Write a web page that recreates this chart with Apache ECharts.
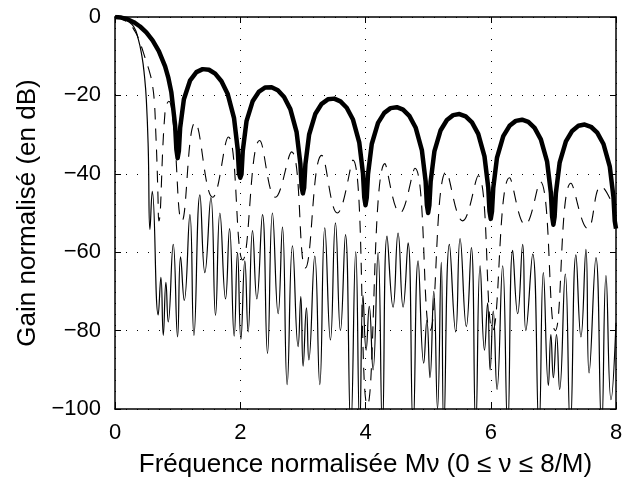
<!DOCTYPE html>
<html><head><meta charset="utf-8">
<script src="https://cdn.jsdelivr.net/npm/echarts@6/dist/echarts.min.js"></script>
<style>html,body{margin:0;padding:0;background:#fff}#c{width:629px;height:483px}</style>
</head><body><div id="c"></div>
<script>
const xTicks=[0,2,4,6,8];
const yTicks=[0,-20,-40,-60,-80,-100];
const thickCurve=[[0,0],[0.1,-0.14],[0.2,-0.58],[0.3,-1.33],[0.4,-2.42],[0.5,-3.92],[0.6,-5.94],[0.7,-8.69],[0.8,-12.62],[0.85,-15.39],[0.9,-19.23],[0.96,-27.63],[0.98,-33.8],[1.0,-36],
[1.02,-34.15],[1.04,-28.32],[1.1,-20.97],[1.2,-16.14],[1.3,-14.06],[1.4,-13.30],[1.5,-13.46],[1.6,-14.46],[1.7,-16.39],[1.8,-19.67],[1.9,-25.72],[1.96,-33.83],[1.98,-39.91],[2.0,-41],
[2.02,-40.09],[2.04,-34.17],[2.1,-26.58],[2.2,-21.41],[2.3,-19.01],[2.4,-17.98],[2.5,-17.90],[2.6,-18.68],[2.7,-20.41],[2.8,-23.50],[2.9,-29.39],[2.96,-37.41],[2.98,-43.46],[3.0,-45],
[3.02,-43.58],[3.04,-37.64],[3.1,-29.97],[3.2,-24.66],[3.3,-22.15],[3.4,-21.01],[3.5,-20.82],[3.6,-21.51],[3.7,-23.14],[3.8,-26.16],[3.9,-31.96],[3.96,-39.93],[3.98,-45.98],[4.0,-48],
[4.02,-46.06],[4.04,-40.11],[4.1,-32.40],[4.2,-27.02],[4.3,-24.45],[4.4,-23.25],[4.5,-23.00],[4.6,-23.64],[4.7,-25.22],[4.8,-28.18],[4.9,-33.94],[4.96,-41.89],[4.98,-47.92],[5.0,-50],
[5.02,-48.0],[5.04,-42.03],[5.1,-34.29],[5.2,-28.88],[5.3,-26.27],[5.4,-25.03],[5.5,-24.75],[5.6,-25.34],[5.7,-26.90],[5.8,-29.83],[5.9,-35.56],[5.96,-43.48],[5.98,-49.51],[6.0,-51.5],
[6.02,-49.57],[6.04,-43.60],[6.1,-35.85],[6.2,-30.41],[6.3,-27.77],[6.4,-26.50],[6.5,-26.20],[6.6,-26.77],[6.7,-28.30],[6.8,-31.21],[6.9,-36.92],[6.96,-44.83],[6.98,-50.86],[7.0,-53],
[7.02,-50.91],[7.04,-44.93],[7.1,-37.17],[7.2,-31.71],[7.3,-29.05],[7.4,-27.76],[7.5,-27.44],[7.6,-28.00],[7.7,-29.51],[7.8,-32.40],[7.9,-38.09],[7.96,-46.00],[7.98,-52.02],[8.0,-54]];
const dashedCurve=[[0,0],[0.2,-1.3],[0.32,-3.7],[0.4,-6.6],[0.48,-10.4],[0.56,-14.5],[0.6,-17.5],[0.63,-22],[0.65,-29],[0.67,-37],[0.685,-45],[0.70,-52],
[0.80,-24],[0.86,-21.5],[0.93,-27],[1.07,-52],[1.28,-26.9],[1.56,-46],[1.81,-30.6],[2.04,-62],[2.31,-31.5],[2.56,-46],[2.82,-34.4],[3.04,-64],[3.30,-35.3],[3.55,-50],
[3.80,-36.5],[4.03,-99],[4.31,-37.4],[4.55,-50],[4.79,-38.6],[5.03,-80],[5.29,-39.5],[5.55,-52],[5.80,-40.5],[6.03,-80],[6.30,-41],[6.55,-53],[6.79,-42],[7.03,-80],
[7.28,-42.4],[7.55,-54],[7.76,-43.2],[8.0,-50]];
const thinCurve=[[0,0],[0.1,-0.2],[0.2,-1],[0.3,-2.5],[0.37,-5.5],[0.43,-10],[0.47,-15],[0.5,-21],[0.53,-33],[0.558,-54.2],
[0.595,-44.5],[0.69,-76],[0.733,-66.4],[0.771,-81.2],[0.813,-67.7],[0.85,-77.8],[0.93,-58],[0.999,-81.6],[1.047,-61.2],[1.106,-72.3],
[1.196,-50.4],[1.26,-81.2],[1.356,-45.4],[1.435,-65.2],[1.531,-46.1],[1.605,-76.1],[1.675,-50.0],[1.765,-71.9],[1.829,-54.0],[1.903,-81.4],
[1.956,-60.1],[2.01,-82.2],[2.073,-62.2],[2.126,-80.3],[2.196,-54.5],[2.265,-71.9],[2.355,-50.4],[2.435,-85.8],[2.514,-50.0],[2.605,-75.7],
[2.674,-53.6],[2.749,-93.8],[2.834,-58.4],[2.924,-84.1],[2.967,-71.3],[3.004,-89.1],[3.057,-74.2],[3.095,-87.5],[3.19,-61],[3.27,-93.8],
[3.35,-53.8],[3.44,-82.4],[3.52,-52.5],[3.60,-80],[3.68,-55.5],[3.765,-105],[3.844,-59.9],[3.908,-105],[3.96,-71.1],[4.01,-85],
[4.06,-73.8],[4.12,-90],[4.20,-60.1],[4.27,-105],[4.344,-55.9],[4.44,-74],[4.52,-55.1],[4.60,-74],[4.68,-57.6],[4.76,-105],
[4.84,-62.2],[4.93,-88.3],[4.98,-77.4],[5.03,-92],[5.09,-70],[5.15,-100],[5.21,-62.6],[5.25,-105],[5.34,-58],[5.44,-80.3],
[5.51,-56.5],[5.61,-79],[5.69,-58.8],[5.76,-105],[5.83,-63.5],[5.90,-85],[5.95,-73],[5.99,-90],[6.04,-75],[6.10,-95],
[6.19,-63.5],[6.27,-105],[6.35,-59.5],[6.43,-75.7],[6.51,-58],[6.56,-80],[6.67,-60.5],[6.77,-105],[6.84,-65.2],[6.92,-94],
[6.96,-81],[7.0,-92],[7.05,-81],[7.1,-95],[7.19,-65.6],[7.27,-105],[7.36,-60.7],[7.44,-81.6],[7.52,-59.3],[7.57,-90.8],
[7.68,-61.4],[7.77,-105],[7.84,-66],[7.92,-97.6],[8.0,-78]];

const FONT='Liberation Sans';
const fmt=v=>String(v).replace('-','\u2212');
function xAx(pos,labels){
  return {type:'value',min:0,max:8,interval:2,position:pos,
    axisLine:{show:true,onZero:false,lineStyle:{color:'#000',width:1.5}},
    axisTick:{show:true,inside:true,length:6,lineStyle:{color:'#000',width:1}},
    axisLabel:{show:labels,color:'#000',fontSize:22,fontFamily:FONT,margin:13,formatter:fmt},
    splitLine:{show:labels,lineStyle:{color:'#000',type:[1,10],width:1}},
    name:labels?'Fréquence normalisée Mν (0 ≤ ν ≤ 8/M)':'',nameLocation:'middle',nameGap:43,
    nameTextStyle:{color:'#000',fontSize:26,fontFamily:FONT}};
}
function yAx(pos,labels){
  return {type:'value',min:-100,max:0,interval:20,position:pos,
    axisLine:{show:true,onZero:false,lineStyle:{color:'#000',width:1.5}},
    axisTick:{show:true,inside:true,length:6,lineStyle:{color:'#000',width:1}},
    axisLabel:{show:labels,color:'#000',fontSize:22,fontFamily:FONT,margin:14,formatter:fmt},
    splitLine:{show:labels,lineStyle:{color:'#000',type:[1,10],width:1}},
    name:labels?'Gain normalisé (en dB)':'',nameLocation:'middle',nameGap:72,
    nameTextStyle:{color:'#000',fontSize:26,fontFamily:FONT}};
}
const chart=echarts.init(document.getElementById('c'));
chart.setOption({
  animation:false,
  grid:{left:115,right:13,top:17,bottom:70},
  xAxis:[xAx('bottom',true),xAx('top',false)],
  yAxis:[yAx('left',true),yAx('right',false)],
  series:[
    {type:'line',data:thinCurve,showSymbol:false,symbol:'none',smooth:0.5,lineStyle:{color:'#000',width:1.2}},
    {type:'line',data:dashedCurve,showSymbol:false,symbol:'none',smooth:0.45,lineStyle:{color:'#000',width:1.1,type:[12,9]}},
    {type:'line',data:thickCurve,showSymbol:false,symbol:'none',smooth:false,lineStyle:{color:'#000',width:4.5,join:'round'}}
  ]
});
</script></body></html>
